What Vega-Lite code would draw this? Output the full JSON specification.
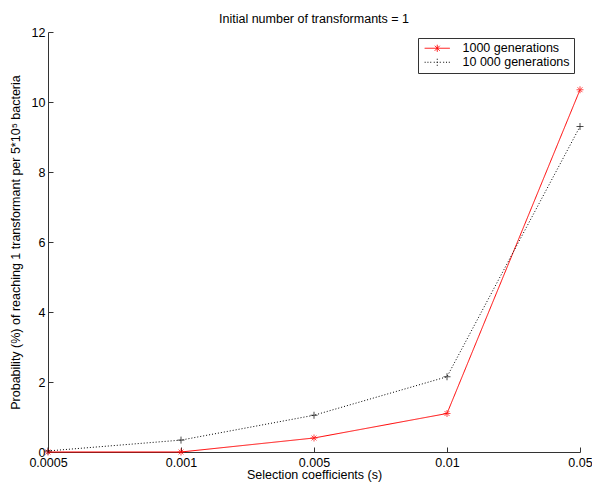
{
  "$schema": "https://vega.github.io/schema/vega-lite/v6.json",
  "width": 532,
  "height": 420,
  "autosize": {"type": "none"},
  "padding": {"left": 48, "top": 32, "right": 12, "bottom": 32},
  "background": "white",
  "title": {"text": "Initial number of transformants = 1", "font": "Liberation Sans", "fontSize": 12.5, "fontWeight": "normal", "color": "black", "offset": 1},
  "config": {
    "view": {"stroke": null},
    "font": "Liberation Sans",
    "axis": {"labelFont": "Liberation Sans", "titleFont": "Liberation Sans", "labelFontSize": 12.5, "titleFontSize": 12.5, "titleFontWeight": "normal", "labelColor": "black", "titleColor": "black", "domainColor": "#333333", "tickColor": "#333333", "grid": false}
  },
  "data": {"values": [
    {"s": "0.0005", "series": "1000 generations", "p": 0},
    {"s": "0.001", "series": "1000 generations", "p": 0},
    {"s": "0.005", "series": "1000 generations", "p": 0.4},
    {"s": "0.01", "series": "1000 generations", "p": 1.1},
    {"s": "0.05", "series": "1000 generations", "p": 10.35},
    {"s": "0.0005", "series": "10 000 generations", "p": 0.03},
    {"s": "0.001", "series": "10 000 generations", "p": 0.34},
    {"s": "0.005", "series": "10 000 generations", "p": 1.05},
    {"s": "0.01", "series": "10 000 generations", "p": 2.15},
    {"s": "0.05", "series": "10 000 generations", "p": 9.3}
  ]},
  "encoding": {
    "x": {"field": "s", "type": "ordinal", "sort": ["0.0005", "0.001", "0.005", "0.01", "0.05"], "scale": {"type": "point", "padding": 0},
      "axis": {"title": "Selection coefficients (s)", "labelAngle": 0, "tickSize": -5, "labelPadding": 9, "titlePadding": 0}},
    "y": {"field": "p", "type": "quantitative", "scale": {"domain": [0, 12], "nice": false},
      "axis": {"title": "Probability (%) of reaching 1 transformant per 5*10⁵ bacteria", "values": [0, 2, 4, 6, 8, 10, 12], "tickSize": -5, "labelPadding": 8, "titlePadding": 9}}
  },
  "layer": [
    {"mark": {"type": "line", "strokeWidth": 1},
     "encoding": {
       "color": {"field": "series", "type": "nominal", "sort": ["1000 generations", "10 000 generations"], "scale": {"domain": ["1000 generations", "10 000 generations"], "range": ["#ff0000", "#000000"]},
         "legend": {"title": null, "orient": "top-right", "offset": 6, "strokeColor": "#333333", "fillColor": "white", "padding": 4, "labelFontSize": 12.5, "labelFont": "Liberation Sans", "labelColor": "black", "rowPadding": 1, "symbolSize": 49, "symbolOffset": 9, "labelOffset": 19, "symbolStrokeWidth": 1,
           "encode": {"symbols": {"update": {"shape": {"signal": "datum.value === '1000 generations' ? 'M-3.6,0L3.6,0M0,-1L0,1M-0.7,-0.7L0.7,0.7M-0.7,0.7L0.7,-0.7' : 'M-3.6,0L-3.3,0M-2.8,0L-2.5,0M-2,0L-1.7,0M-1,0L1,0M0,-1L0,1M1.7,0L2,0M2.5,0L2.8,0M3.3,0L3.6,0'"}, "strokeDash": {"value": [1, 0]}, "fill": {"value": "transparent"}}}}}},
       "strokeDash": {"field": "series", "type": "nominal", "sort": ["1000 generations", "10 000 generations"], "scale": {"domain": ["1000 generations", "10 000 generations"], "range": [[1, 0], [1, 2]]}, "legend": null}}},
    {"transform": [{"filter": "datum.series === '1000 generations'"}],
     "mark": {"type": "point", "filled": false, "strokeWidth": 1, "size": 49, "stroke": "#ff0000", "shape": "M-1,0L1,0M0,-1L0,1M-0.7,-0.7L0.7,0.7M-0.7,0.7L0.7,-0.7"}},
    {"transform": [{"filter": "datum.series === '10 000 generations'"}],
     "mark": {"type": "point", "filled": false, "strokeWidth": 1, "size": 49, "stroke": "#000000", "shape": "M-1,0L1,0M0,-1L0,1"}}
  ]
}
